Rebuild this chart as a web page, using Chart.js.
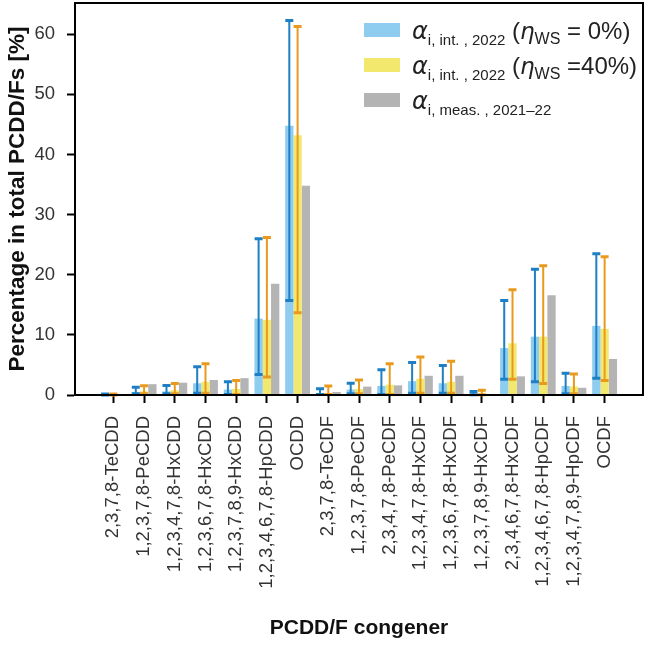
<!DOCTYPE html>
<html>
<head>
<meta charset="utf-8">
<script src="https://cdn.jsdelivr.net/npm/chart.js@4.4.1/dist/chart.umd.min.js"></script>
<style>
  html, body { margin: 0; padding: 0; background: #fff; }
  #wrap { width: 646px; height: 646px; }
</style>
</head>
<body>
<div id="wrap"><canvas id="chart" width="646" height="646"></canvas></div>
<script>
// Congeners on the x axis
const congeners = [
  "2,3,7,8-TeCDD", "1,2,3,7,8-PeCDD", "1,2,3,4,7,8-HxCDD", "1,2,3,6,7,8-HxCDD",
  "1,2,3,7,8,9-HxCDD", "1,2,3,4,6,7,8-HpCDD", "OCDD", "2,3,7,8-TeCDF",
  "1,2,3,7,8-PeCDF", "2,3,4,7,8-PeCDF", "1,2,3,4,7,8-HxCDF", "1,2,3,6,7,8-HxCDF",
  "1,2,3,7,8,9-HxCDF", "2,3,4,6,7,8-HxCDF", "1,2,3,4,6,7,8-HpCDF",
  "1,2,3,4,7,8,9-HpCDF", "OCDF"
];

// alpha int 2022, eta_WS = 0%
const int0 = [0.1, 0.5, 0.6, 1.95, 0.9, 12.7, 44.8, 0.3, 0.9, 1.5, 2.3, 1.95, 0.1, 7.8, 9.7, 1.5, 11.5];
const int0Low = [0.0, 0.2, 0.2, 0.3, 0.1, 3.4, 15.7, 0.1, 0.2, 0.1, 0.3, 0.3, 0.05, 2.6, 2.2, 0.2, 2.8];
const int0High = [0.15, 1.3, 1.6, 4.7, 2.2, 26.0, 62.3, 1.05, 1.95, 4.2, 5.4, 4.9, 0.6, 15.7, 20.9, 3.6, 23.5];

// alpha int 2022, eta_WS = 40%
const int40 = [0.1, 0.6, 0.8, 2.2, 1.0, 12.5, 43.2, 0.3, 1.0, 1.7, 2.7, 2.2, 0.1, 8.6, 9.7, 1.4, 11.0];
const int40Low = [0.0, 0.2, 0.2, 0.3, 0.1, 3.0, 13.7, 0.1, 0.2, 0.1, 0.3, 0.3, 0.05, 2.6, 1.9, 0.2, 2.4];
const int40High = [0.15, 1.55, 1.9, 5.2, 2.4, 26.2, 61.3, 1.5, 2.5, 5.2, 6.3, 5.6, 0.8, 17.5, 21.5, 3.5, 23.0];

// alpha meas 2021-22
const meas = [0.05, 1.8, 2.05, 2.5, 2.8, 18.5, 34.8, 0.5, 1.4, 1.6, 3.2, 3.2, 0.0, 3.1, 16.6, 1.2, 6.0];

const yTicks = [0, 10, 20, 30, 40, 50, 60];

const toPoints = (arr) => arr.map((v, i) => ({ x: i, y: v }));

// Error bars for the two interpolated series
const errorBars = {
  id: "errorBars",
  afterDatasetsDraw(chart) {
    const ctx = chart.ctx;
    const y = chart.scales.y;
    const sets = [
      { index: 0, low: int0Low, high: int0High, color: "#1f7fc4" },
      { index: 1, low: int40Low, high: int40High, color: "#e99a1c" }
    ];
    ctx.save();
    sets.forEach((s) => {
      const meta = chart.getDatasetMeta(s.index);
      meta.data.forEach((bar, i) => {
        const yl = y.getPixelForValue(s.low[i]);
        const yh = y.getPixelForValue(s.high[i]);
        ctx.strokeStyle = s.color;
        ctx.lineWidth = 2;
        ctx.beginPath();
        ctx.moveTo(bar.x, yl);
        ctx.lineTo(bar.x, yh);
        ctx.stroke();
        ctx.lineWidth = 3;
        ctx.beginPath();
        ctx.moveTo(bar.x - 4, yl);
        ctx.lineTo(bar.x + 4, yl);
        ctx.moveTo(bar.x - 4, yh);
        ctx.lineTo(bar.x + 4, yh);
        ctx.stroke();
      });
    });
    ctx.restore();
  }
};

// Box around the plot area
const frame = {
  id: "frame",
  afterDraw(chart) {
    const a = chart.chartArea;
    const ctx = chart.ctx;
    ctx.save();
    ctx.strokeStyle = "#000";
    ctx.lineWidth = 2;
    ctx.strokeRect(a.left, a.top, a.right - a.left, a.bottom - a.top);
    ctx.restore();
  }
};

// Legend with subscripts, drawn by hand
const SANS = "'Liberation Sans', Arial, sans-serif";
const MATH = "'DejaVu Sans', sans-serif";
const legendRows = [
  { color: "#8fcdf0", parts: [
    { t: "α", f: "italic 24px " + MATH, dy: 0 },
    { t: "i, int. , 2022", f: "15px " + SANS, dy: 6 },
    { t: " (", f: "24px " + SANS, dy: 0 },
    { t: "η", f: "italic 23px " + MATH, dy: 0 },
    { t: "WS", f: "16px " + SANS, dy: 5 },
    { t: " = 0%)", f: "24px " + SANS, dy: 0 }
  ]},
  { color: "#f3e86e", parts: [
    { t: "α", f: "italic 24px " + MATH, dy: 0 },
    { t: "i, int. , 2022", f: "15px " + SANS, dy: 6 },
    { t: " (", f: "24px " + SANS, dy: 0 },
    { t: "η", f: "italic 23px " + MATH, dy: 0 },
    { t: "WS", f: "16px " + SANS, dy: 5 },
    { t: " =40%)", f: "24px " + SANS, dy: 0 }
  ]},
  { color: "#b4b4b4", parts: [
    { t: "α", f: "italic 24px " + MATH, dy: 0 },
    { t: "i, meas. , 2021–22", f: "15px " + SANS, dy: 6 }
  ]}
];

const customLegend = {
  id: "customLegend",
  afterDraw(chart) {
    const ctx = chart.ctx;
    ctx.save();
    ctx.textBaseline = "alphabetic";
    ctx.textAlign = "left";
    legendRows.forEach((row, r) => {
      const cy = 30 + r * 35;
      ctx.fillStyle = row.color;
      ctx.fillRect(364, cy - 7, 36, 14);
      let x = 412;
      ctx.fillStyle = "#222";
      row.parts.forEach((p) => {
        ctx.font = p.f;
        ctx.fillText(p.t, x, cy + 9 + p.dy);
        x += ctx.measureText(p.t).width;
      });
    });
    ctx.restore();
  }
};

const ctx = document.getElementById("chart").getContext("2d");
const chart = new Chart(ctx, {
  type: "bar",
  data: {
    datasets: [
      { label: "int0", data: toPoints(int0), backgroundColor: "#8fcdf0" },
      { label: "int40", data: toPoints(int40), backgroundColor: "#f3e86e" },
      { label: "meas", data: toPoints(meas), backgroundColor: "#b4b4b4" }
    ]
  },
  options: {
    responsive: false,
    animation: false,
    layout: { padding: { top: 3, right: 3, left: 0, bottom: 0 } },
    datasets: {
      bar: { categoryPercentage: 0.81, barPercentage: 1.0, borderWidth: 0 }
    },
    plugins: {
      legend: { display: false },
      tooltip: { enabled: false }
    },
    scales: {
      x: {
        type: "linear",
        min: -1.25,
        max: 17.25,
        offset: false,
        afterBuildTicks: (scale) => {
          scale.ticks = congeners.map((c, i) => ({ value: i }));
        },
        afterFit: (scale) => {
          scale.height = 251;
          scale.paddingLeft = 0;
          scale.paddingRight = 0;
        },
        grid: {
          offset: false,
          drawOnChartArea: false,
          drawTicks: true,
          tickLength: 8,
          tickWidth: 2,
          tickColor: "#000"
        },
        border: { display: true, color: "#000", width: 2 },
        ticks: {
          autoSkip: false,
          minRotation: 90,
          maxRotation: 90,
          padding: 13,
          color: "#333",
          font: { family: SANS, size: 18.5 },
          callback: (v) => congeners[v]
        },
        title: {
          display: true,
          text: "PCDD/F congener",
          color: "#111",
          font: { family: SANS, size: 21, weight: "bold" },
          padding: { top: 0, bottom: 5 }
        }
      },
      y: {
        min: 0,
        max: 65.2,
        afterBuildTicks: (scale) => {
          scale.ticks = yTicks.map((v) => ({ value: v }));
        },
        afterFit: (scale) => {
          scale.width = 75;
          scale.paddingTop = 0;
          scale.paddingBottom = 0;
        },
        grid: {
          drawOnChartArea: false,
          drawTicks: true,
          tickLength: 8,
          tickWidth: 2,
          tickColor: "#000"
        },
        border: { display: true, color: "#000", width: 2 },
        ticks: {
          padding: 12,
          color: "#333",
          font: { family: SANS, size: 18.5 }
        },
        title: {
          display: true,
          text: "Percentage in total PCDD/Fs [%]",
          color: "#111",
          font: { family: SANS, size: 22.5, weight: "bold" },
          padding: { top: 4, bottom: 0 }
        }
      }
    }
  },
  plugins: [errorBars, frame, customLegend]
});
</script>
</body>
</html>
